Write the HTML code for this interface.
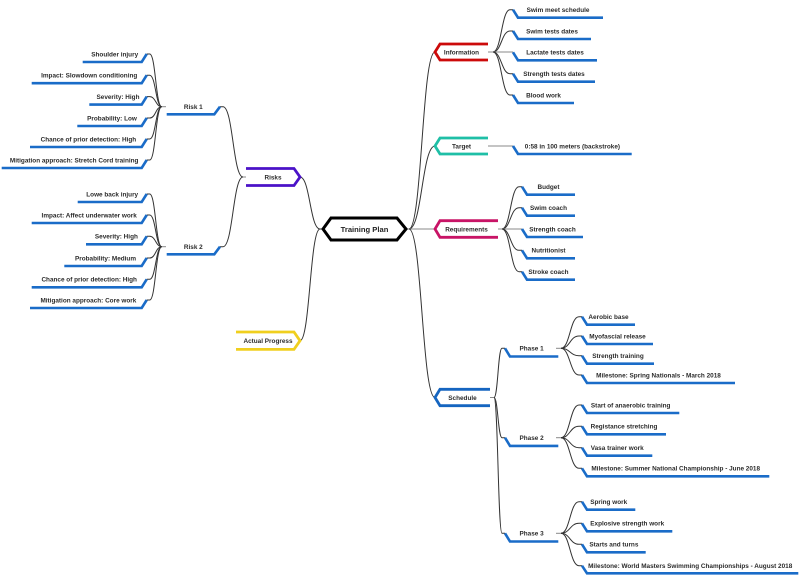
<!DOCTYPE html>
<html><head><meta charset="utf-8"><style>
html,body{margin:0;padding:0;background:#fff;}
svg{display:block;}
text{font-family:"Liberation Sans",Arial,sans-serif;font-weight:bold;font-size:6.4px;fill:#2b2b2b;text-anchor:middle;}
.c{fill:none;stroke:#333;stroke-width:1;}
.g{fill:none;stroke:#888;stroke-width:1;}
.l{fill:none;stroke:#1a6cc8;stroke-width:2.6;stroke-linejoin:miter;}
.n{fill:none;stroke-width:2.8;stroke-linejoin:miter;}
</style></head><body>
<svg width="800" height="575" viewBox="0 0 800 575" xmlns="http://www.w3.org/2000/svg">
<!-- center connectors -->
<path class="c" d="M406 229 L409 229 C422 229 422 52 435 52"/>
<path class="c" d="M409 229 C422 229 422 146 435 146"/>
<path class="g" d="M406 229 L435 229"/>
<path class="c" d="M409 229 C422 229 422 397.5 435 397.5"/>
<path class="c" d="M300 177 C310 177 310 229 320 229 L323 229"/>
<path class="c" d="M300 340.7 C310 340.7 310 229 320 229"/>

<!-- center -->
<path d="M323 229 L331 218 L397 218 L406 229 L397 240 L331 240 Z" fill="#fff" stroke="#000" stroke-width="3" stroke-linejoin="miter"/>
<text x="364.5" y="231.8" style="font-size:7.6px;fill:#222">Training Plan</text>

<!-- Information -->
<path class="n" stroke="#cc0a0a" d="M488 44 L440 44 L435 52 L440 60 L488 60"/>
<text x="461.5" y="54.3">Information</text>
<path class="g" d="M488 52 L493 52"/>
<path class="c" d="M493 52 C501.5 52 501.5 9.7 510 9.7 L513 9.7"/>
<path class="c" d="M493 52 C501.5 52 501.5 31 510 31 L513 31"/>
<path class="g" d="M493 52 L513 52"/>
<path class="c" d="M493 52 C501.5 52 501.5 73.7 510 73.7 L513 73.7"/>
<path class="c" d="M493 52 C501.5 52 501.5 95 510 95 L513 95"/>
<path class="l" d="M513 9.7 L518 17.7 L603 17.7"/><text x="558" y="12">Swim meet schedule</text>
<path class="l" d="M513 31 L518 39 L591 39"/><text x="552" y="33.3">Swim tests dates</text>
<path class="l" d="M513 52.3 L518 60.3 L597 60.3"/><text x="555" y="54.6">Lactate tests dates</text>
<path class="l" d="M513 73.7 L518 81.7 L595 81.7"/><text x="554" y="76">Strength tests dates</text>
<path class="l" d="M513 95 L518 103 L574 103"/><text x="543.5" y="97.3">Blood work</text>

<!-- Target -->
<path class="n" stroke="#1fbfa6" d="M488 138 L440 138 L435 146 L440 154 L488 154"/>
<text x="461.5" y="148.3">Target</text>
<path class="g" d="M488 146 L513 146"/>
<path class="l" d="M513 146 L518 154 L631.7 154"/><text x="572.4" y="148.3">0:58 in 100 meters (backstroke)</text>

<!-- Requirements -->
<path class="n" stroke="#c81466" d="M498 220.7 L440 220.7 L435 229 L440 237.3 L498 237.3"/>
<text x="466.5" y="231.3">Requirements</text>
<path class="g" d="M498 229 L502 229"/>
<path class="c" d="M502 229 C510.5 229 510.5 186.7 519 186.7 L522 186.7"/>
<path class="c" d="M502 229 C510.5 229 510.5 207.7 519 207.7 L522 207.7"/>
<path class="g" d="M502 229 L522 229"/>
<path class="c" d="M502 229 C510.5 229 510.5 250.3 519 250.3 L522 250.3"/>
<path class="c" d="M502 229 C510.5 229 510.5 271.7 519 271.7 L522 271.7"/>
<path class="l" d="M522 186.7 L527 194.7 L575 194.7"/><text x="548.5" y="189">Budget</text>
<path class="l" d="M522 207.7 L527 215.7 L575 215.7"/><text x="548.5" y="210">Swim coach</text>
<path class="l" d="M522 229 L527 237 L583 237"/><text x="552.5" y="231.3">Strength coach</text>
<path class="l" d="M522 250.3 L527 258.3 L575 258.3"/><text x="548.5" y="252.6">Nutritionist</text>
<path class="l" d="M522 271.7 L527 279.7 L575 279.7"/><text x="548.5" y="274">Stroke coach</text>

<!-- Schedule -->
<path class="n" stroke="#1565c0" d="M490 389.3 L440 389.3 L435 397.5 L440 405.7 L490 405.7"/>
<text x="462.5" y="399.8">Schedule</text>
<path class="g" d="M490 397.5 L494 397.5"/>
<path class="c" d="M494 397.5 C498 397.5 498 348.3 502 348.3 L505 348.3"/>
<path class="c" d="M494 397.5 C498 397.5 498 437.7 502 437.7 L505 437.7"/>
<path class="c" d="M494 397.5 C498 397.5 498 533.3 502 533.3 L505 533.3"/>

<path class="l" d="M505 348.3 L510 356.5 L558.3 356.5"/><text x="531.6" y="350.6">Phase 1</text>
<path class="l" d="M505 437.7 L510 445.9 L558.3 445.9"/><text x="531.6" y="440">Phase 2</text>
<path class="l" d="M505 533.3 L510 541.5 L558.3 541.5"/><text x="531.6" y="535.6">Phase 3</text>

<!-- Phase 1 children -->
<path class="g" d="M556 348.3 L561 348.3"/>
<path class="c" d="M561 348.3 C570 348.3 570 316.7 579 316.7 L582 316.7"/>
<path class="c" d="M561 348.3 C570 348.3 570 336 579 336 L582 336"/>
<path class="c" d="M561 348.3 C570 348.3 570 355.7 579 355.7 L582 355.7"/>
<path class="c" d="M561 348.3 C570 348.3 570 375 579 375 L582 375"/>
<path class="l" d="M582 316.7 L587 324.7 L635 324.7"/><text x="608.5" y="319">Aerobic base</text>
<path class="l" d="M582 336 L587 344 L653 344"/><text x="617.5" y="338.3">Myofascial release</text>
<path class="l" d="M582 355.7 L587 363.7 L654 363.7"/><text x="618" y="358">Strength training</text>
<path class="l" d="M582 375 L587 383 L735 383"/><text x="658.5" y="377.3">Milestone: Spring Nationals - March 2018</text>

<!-- Phase 2 children -->
<path class="g" d="M556 437.7 L561 437.7"/>
<path class="c" d="M561 437.7 C570 437.7 570 405 579 405 L582 405"/>
<path class="c" d="M561 437.7 C570 437.7 570 426.3 579 426.3 L582 426.3"/>
<path class="c" d="M561 437.7 C570 437.7 570 447.7 579 447.7 L582 447.7"/>
<path class="c" d="M561 437.7 C570 437.7 570 468.3 579 468.3 L582 468.3"/>
<path class="l" d="M582 405 L587 413 L679.3 413"/><text x="630.7" y="407.3">Start of anaerobic training</text>
<path class="l" d="M582 426.3 L587 434.3 L666 434.3"/><text x="624" y="428.6">Registance stretching</text>
<path class="l" d="M582 447.7 L587 455.7 L652.3 455.7"/><text x="617.2" y="450">Vasa trainer work</text>
<path class="l" d="M582 468.3 L587 476.3 L769.3 476.3"/><text x="675.7" y="470.6">Milestone: Summer National Championship - June 2018</text>

<!-- Phase 3 children -->
<path class="g" d="M556 533.3 L561 533.3"/>
<path class="c" d="M561 533.3 C570 533.3 570 501.7 579 501.7 L582 501.7"/>
<path class="c" d="M561 533.3 C570 533.3 570 523.3 579 523.3 L582 523.3"/>
<path class="c" d="M561 533.3 C570 533.3 570 544.3 579 544.3 L582 544.3"/>
<path class="c" d="M561 533.3 C570 533.3 570 565.7 579 565.7 L582 565.7"/>
<path class="l" d="M582 501.7 L587 509.7 L635.3 509.7"/><text x="608.7" y="504">Spring work</text>
<path class="l" d="M582 523.3 L587 531.3 L672.3 531.3"/><text x="627.2" y="525.6">Explosive strength work</text>
<path class="l" d="M582 544.3 L587 552.3 L645.7 552.3"/><text x="613.9" y="546.6">Starts and turns</text>
<path class="l" d="M582 565.7 L587 573.3 L798.3 573.3"/><text x="690.2" y="568">Milestone: World Masters Swimming Championships - August 2018</text>

<!-- Risks -->
<path class="n" stroke="#4b12c8" d="M246 168.5 L294 168.5 L300 177 L294 185.5 L246 185.5"/>
<text x="273" y="179.3">Risks</text>
<path class="c" d="M220 106.7 L223 106.7 C233 106.7 233 177 243 177"/>
<path class="c" d="M220 246.7 L223 246.7 C233 246.7 233 177 243 177"/>
<path class="g" d="M243 177 L246 177"/>

<!-- Actual Progress -->
<path class="n" stroke="#f0cf1e" d="M236 332 L294 332 L300 340.7 L294 349.4 L236 349.4"/>
<text x="268" y="343">Actual Progress</text>

<!-- Risk 1 -->
<path class="l" d="M166.7 114.3 L214.3 114.3 L220 106.7"/><text x="193.3" y="109">Risk 1</text>
<path class="g" d="M161.7 106.7 L166 106.7"/>
<path class="c" d="M161.7 106.7 C155.7 106.7 155.7 54 149.7 54 L146.7 54"/>
<path class="c" d="M161.7 106.7 C155.7 106.7 155.7 75.2 149.7 75.2 L146.7 75.2"/>
<path class="c" d="M161.7 106.7 C155.7 106.7 155.7 96.6 149.7 96.6 L146.7 96.6"/>
<path class="c" d="M161.7 106.7 C155.7 106.7 155.7 118 149.7 118 L146.7 118"/>
<path class="c" d="M161.7 106.7 C155.7 106.7 155.7 139 149.7 139 L146.7 139"/>
<path class="c" d="M161.7 106.7 C155.7 106.7 155.7 160 149.7 160 L146.7 160"/>
<path class="l" d="M82.7 62 L141.7 62 L146.7 54"/><text x="114.7" y="56.3">Shoulder injury</text>
<path class="l" d="M31.7 83.2 L141.7 83.2 L146.7 75.2"/><text x="89.2" y="77.5">Impact: Slowdown conditioning</text>
<path class="l" d="M89.3 104.6 L141.7 104.6 L146.7 96.6"/><text x="118" y="98.9">Severity: High</text>
<path class="l" d="M77.3 126 L141.7 126 L146.7 118"/><text x="112" y="120.3">Probability: Low</text>
<path class="l" d="M30 147 L141.7 147 L146.7 139"/><text x="88.4" y="141.3">Chance of prior detection: High</text>
<path class="l" d="M1.7 168 L141.7 168 L146.7 160"/><text x="74.2" y="162.3">Mitigation approach: Stretch Cord training</text>

<!-- Risk 2 -->
<path class="l" d="M166.7 254.3 L214.3 254.3 L220 246.7"/><text x="193.3" y="249">Risk 2</text>
<path class="g" d="M161.7 246.7 L166 246.7"/>
<path class="c" d="M161.7 246.7 C155.7 246.7 155.7 194 149.7 194 L146.7 194"/>
<path class="c" d="M161.7 246.7 C155.7 246.7 155.7 215 149.7 215 L146.7 215"/>
<path class="c" d="M161.7 246.7 C155.7 246.7 155.7 236.3 149.7 236.3 L146.7 236.3"/>
<path class="c" d="M161.7 246.7 C155.7 246.7 155.7 258 149.7 258 L146.7 258"/>
<path class="c" d="M161.7 246.7 C155.7 246.7 155.7 279.3 149.7 279.3 L146.7 279.3"/>
<path class="c" d="M161.7 246.7 C155.7 246.7 155.7 300 149.7 300 L146.7 300"/>
<path class="l" d="M77.7 202 L141.7 202 L146.7 194"/><text x="112.2" y="196.3">Lowe back injury</text>
<path class="l" d="M31.7 223 L141.7 223 L146.7 215"/><text x="89.2" y="217.3">Impact: Affect underwater work</text>
<path class="l" d="M86 244.3 L141.7 244.3 L146.7 236.3"/><text x="116.4" y="238.6">Severity: High</text>
<path class="l" d="M64.3 266 L141.7 266 L146.7 258"/><text x="105.5" y="260.3">Probability: Medium</text>
<path class="l" d="M31.7 287.3 L141.7 287.3 L146.7 279.3"/><text x="89.2" y="281.6">Chance of prior detection: High</text>
<path class="l" d="M30 308 L141.7 308 L146.7 300"/><text x="88.4" y="302.3">Mitigation approach: Core work</text>
</svg>
</body></html>
